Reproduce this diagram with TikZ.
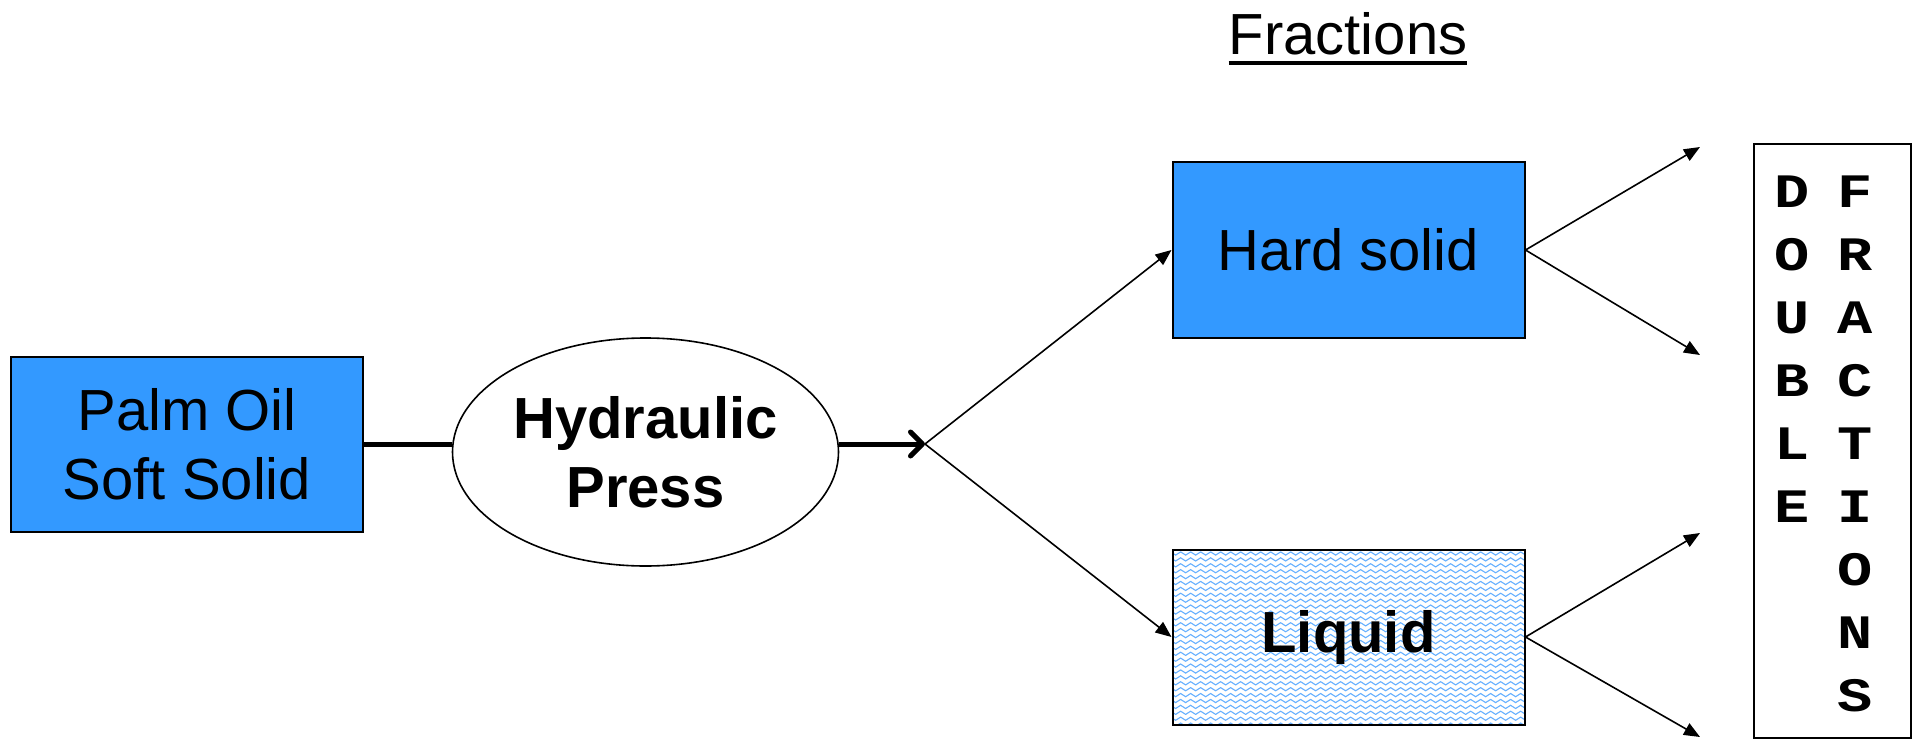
\documentclass[tikz,border=0pt]{standalone}
\usepackage{fontspec}
\setmainfont{Liberation Sans}
\newfontfamily\monobold{Liberation Mono}
\usetikzlibrary{arrows.meta,decorations.pathmorphing,shapes.geometric}
\definecolor{boxblue}{HTML}{3399FF}
\definecolor{waveblue}{HTML}{66B0FF}
\newcommand{\wideletter}[1]{\scalebox{1.22}[1]{#1}}
\begin{document}
\begin{tikzpicture}[x=1pt,y=-1pt,
  bluebox/.style={draw=black,line width=2pt,fill=boxblue,minimum width=352pt,minimum height=175pt,inner sep=0pt,align=center,font=\fontsize{58}{69}\selectfont},
  thickline/.style={line width=5pt},
  thinarrow/.style={line width=1.6pt,-{Triangle[length=16pt,width=13pt]}},
  wave/.style={draw=waveblue,line width=1.1pt,decorate,decoration={snake,segment length=10pt,amplitude=1.6pt}},
  letter/.style={font=\fontsize{48}{48}\selectfont\monobold\bfseries,inner sep=0pt,anchor=base}
]
\useasboundingbox (0,0) rectangle (1917,741);
\fill[white] (0,0) rectangle (1917,741);

% title
\node[font=\fontsize{58}{58}\selectfont,anchor=base,inner sep=0pt] (frac) at (1348,55) {Fractions};
\draw[line width=4pt] ([yshift=-8pt]frac.base west) -- ([yshift=-8pt]frac.base east);

% nodes
\node[bluebox] (palm) at (187,444) {Palm Oil\\Soft Solid};
\node[draw=black,line width=1.6pt,ellipse,minimum width=386pt,minimum height=228pt,inner sep=0pt,align=center,font=\fontsize{58}{69}\selectfont\bfseries] (hp) at (645.5,452) {Hydraulic\\Press};
\node[bluebox] (hard) at (1348.5,250) {Hard solid};
\node[draw=black,line width=2pt,fill=white,minimum width=352pt,minimum height=175pt,inner sep=0pt,font=\fontsize{58}{69}\selectfont\bfseries,
  path picture={
    \foreach \k in {0,...,29}
      \draw[wave] ([xshift=-5pt,yshift={-(\k*5.9+4)*1pt}]path picture bounding box.north west) -- ++(380pt,0pt);
  }] (liq) at (1348.5,637) {Liquid};

\node[draw=black,line width=2pt,minimum width=157pt,minimum height=594pt,inner sep=0pt] (df) at (1832.5,441) {};

% letters
\foreach \c [count=\i from 0] in {D,O,U,B,L,E}
  \node[letter] (d\i) at (1792,{207+\i*63}) {\wideletter{\c}};
\foreach \c [count=\i from 0] in {F,R,A,C,T,I,O,N,S}
  \node[letter] (f\i) at (1855,{207+\i*63}) {\wideletter{\c}};

% connectors
\coordinate (split) at (925,444);
\draw[thickline] (palm.east) -- (palm.east -| hp.west);
\draw[thickline,-{Straight Barb[length=12pt,width=24pt,line cap=round,line join=round]}] (hp.east |- palm.east) -- (split);
\draw[thinarrow] (split) -- (hard.west);
\draw[thinarrow] (split) -- (liq.west);

\coordinate (t1) at (1700,147);
\coordinate (t2) at (1700,355);
\coordinate (t3) at (1700,533);
\coordinate (t4) at (1700,737);
\draw[thinarrow] (hard.east) -- (t1);
\draw[thinarrow] (hard.east) -- (t2);
\draw[thinarrow] (liq.east) -- (t3);
\draw[thinarrow] (liq.east) -- (t4);
\end{tikzpicture}
\end{document}
